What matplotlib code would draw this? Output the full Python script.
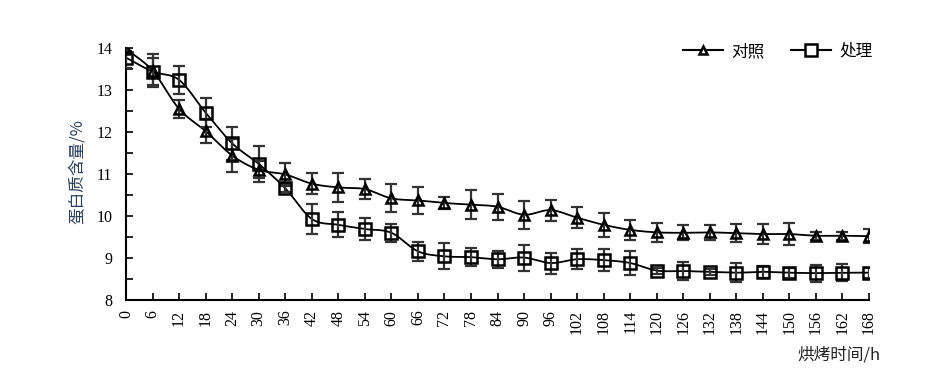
import numpy as np
import matplotlib
matplotlib.use("Agg")
import matplotlib.pyplot as plt
from matplotlib.ticker import MultipleLocator

plt.rcParams['font.family'] = ['Liberation Serif', 'Noto Sans CJK SC', 'DejaVu Sans']

hours = list(range(0, 169, 6))
control = [13.98, 13.46, 12.55, 12.02, 11.44, 11.10, 10.99, 10.77, 10.68,
           10.64, 10.42, 10.37, 10.31, 10.27, 10.22, 10.03, 10.14, 9.96,
           9.79, 9.67, 9.61, 9.60, 9.61, 9.59, 9.57, 9.57, 9.53, 9.53, 9.52]
control_err = [0.05, 0.40, 0.22, 0.28, 0.40, 0.20, 0.27, 0.25, 0.34,
               0.23, 0.33, 0.33, 0.15, 0.34, 0.31, 0.33, 0.25, 0.25,
               0.29, 0.23, 0.22, 0.18, 0.18, 0.22, 0.24, 0.27, 0.10, 0.10, 0.17]
treat = [13.77, 13.44, 13.24, 12.46, 11.73, 11.24, 10.66, 9.93, 9.79,
         9.69, 9.60, 9.16, 9.04, 9.02, 8.97, 9.01, 8.88, 8.97,
         8.95, 8.88, 8.70, 8.69, 8.67, 8.65, 8.67, 8.65, 8.64, 8.65, 8.65]
treat_err = [0.25, 0.32, 0.34, 0.35, 0.39, 0.42, 0.10, 0.35, 0.30,
             0.27, 0.22, 0.22, 0.31, 0.22, 0.20, 0.31, 0.25, 0.24,
             0.26, 0.28, 0.07, 0.22, 0.07, 0.22, 0.14, 0.12, 0.20, 0.20, 0.12]
series_names = ['对照', '处理']
xlabel = '烘烤时间/h'
ylabel = '蛋白质含量/%'


def smooth(x, y, n=16):
    x = np.asarray(x, float)
    y = np.asarray(y, float)
    px = np.concatenate([[2 * x[0] - x[1]], x, [2 * x[-1] - x[-2]]])
    py = np.concatenate([[2 * y[0] - y[1]], y, [2 * y[-1] - y[-2]]])
    xs, ys = [], []
    t = np.linspace(0, 1, n, endpoint=False)
    for i in range(1, len(px) - 2):
        p0, p1, p2, p3 = [np.array([px[j], py[j]]) for j in range(i - 1, i + 3)]
        m1 = (p2 - p0) / 6.0
        m2 = (p3 - p1) / 6.0
        c1 = p1 + m1
        c2 = p2 - m2
        pts = ((1 - t) ** 3)[:, None] * p1 + (3 * (1 - t) ** 2 * t)[:, None] * c1 \
            + (3 * (1 - t) * t ** 2)[:, None] * c2 + (t ** 3)[:, None] * p2
        xs.extend(pts[:, 0]); ys.extend(pts[:, 1])
    xs.append(x[-1]); ys.append(y[-1])
    return np.array(xs), np.array(ys)


fig = plt.figure(figsize=(9.42, 3.82), dpi=100)
ax = fig.add_axes([0.1338, 0.2147, 0.7887, 0.6596])

errc = '#333333'
for yv, ev, mk, ms in [(control, control_err, '^', 7), (treat, treat_err, 's', 9)]:
    sx, sy = smooth(hours, yv)
    ax.plot(sx, sy, color='black', lw=1.3, zorder=2)
    ax.errorbar(hours, yv, yerr=ev, fmt='none', ecolor=errc, elinewidth=1.6,
                capsize=4.5, capthick=1.6, zorder=3)
    ax.plot(hours, yv, linestyle='none', marker=mk, ms=ms, mfc='none',
            mec='black', mew=1.8, zorder=4)

h1, = ax.plot([], [], color='black', lw=1.5, marker='^', ms=6, mfc='white', mec='black', mew=1.8)
h2, = ax.plot([], [], color='black', lw=1.5, marker='s', ms=8, mfc='white', mec='black', mew=1.8)
leg = ax.legend([h1, h2], series_names, ncol=2, loc='upper right', frameon=False,
                bbox_to_anchor=(1.025, 1.08), fontsize=12, handlelength=2.4,
                columnspacing=1.6, handletextpad=0.5)
for t in leg.get_texts():
    t.set_family(['Noto Sans CJK SC'])

ax.set_xlim(0, 168)
ax.set_ylim(8, 14)
ax.set_xticks(hours)
ax.set_xticklabels([str(h) for h in hours], rotation=90, fontsize=11.5)
ax.yaxis.set_major_locator(MultipleLocator(1))
ax.yaxis.set_minor_locator(MultipleLocator(0.5))
ax.tick_params(axis='x', direction='in', length=5, width=1.2, pad=7)
ax.tick_params(axis='y', which='major', direction='in', length=5, width=1.2, pad=10, labelsize=11.5)
ax.tick_params(axis='y', which='minor', direction='in', length=5, width=1.2)
for s in ['top', 'right']:
    ax.spines[s].set_visible(False)
for s in ['left', 'bottom']:
    ax.spines[s].set_linewidth(1.5)

fig.text(0.082, 0.55, ylabel, rotation=90, ha='center', va='center',
         fontsize=12, family=['Noto Sans CJK SC'], color='#2b3f5c')
fig.text(0.935, 0.07, xlabel, ha='right', va='center', fontsize=12,
         family=['Noto Sans CJK SC', 'Liberation Serif'], color='#222222')

fig.savefig('out.png', dpi=100)
